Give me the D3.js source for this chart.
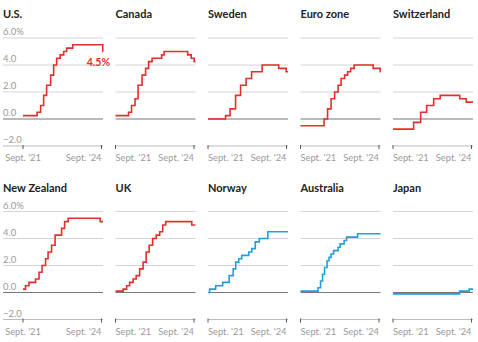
<!DOCTYPE html>
<html>
<head>
<meta charset="utf-8">
<script src="https://cdnjs.cloudflare.com/ajax/libs/d3/7.8.5/d3.min.js"></script>
<style>
  body { margin: 0; background: #fff; }
  text { font-family: Lato, "Open Sans", sans-serif; }
</style>
</head>
<body>
<svg id="chart" width="478" height="342"></svg>
<script>
////////////////////////////
//  data: policy rate steps [date, rate %]
////////////////////////////
var usRates = [["2021-09-01",0.25],["2022-03-17",0.5],["2022-05-05",1.0],["2022-06-16",1.75],["2022-07-28",2.5],["2022-09-22",3.25],["2022-11-03",4.0],["2022-12-15",4.5],["2023-02-02",4.75],["2023-03-23",5.0],["2023-05-04",5.25],["2023-07-27",5.5],["2024-09-19",5.0]];
var canadaRates = [["2021-09-01",0.25],["2022-03-02",0.5],["2022-04-13",1.0],["2022-06-01",1.5],["2022-07-13",2.5],["2022-09-07",3.25],["2022-10-26",3.75],["2022-12-07",4.25],["2023-01-25",4.5],["2023-06-07",4.75],["2023-07-12",5.0],["2024-06-05",4.75],["2024-07-24",4.5],["2024-09-04",4.25]];
var swedenRates = [["2021-09-01",0],["2022-05-04",0.25],["2022-07-06",0.75],["2022-09-21",1.75],["2022-11-30",2.5],["2023-02-15",3.0],["2023-05-03",3.5],["2023-09-27",4.0],["2024-05-15",3.75],["2024-08-28",3.5]];
var euroRates = [["2021-09-01",-0.5],["2022-07-27",0],["2022-09-14",0.75],["2022-11-02",1.5],["2022-12-21",2.0],["2023-02-08",2.5],["2023-03-22",3.0],["2023-05-10",3.25],["2023-06-21",3.5],["2023-08-02",3.75],["2023-09-20",4.0],["2024-06-12",3.75],["2024-09-18",3.5]];
var swissRates = [["2021-09-01",-0.75],["2022-06-16",-0.25],["2022-09-22",0.5],["2022-12-15",1.0],["2023-03-23",1.5],["2023-06-22",1.75],["2024-03-21",1.5],["2024-06-20",1.25]];
var nzRates = [["2021-09-01",0.25],["2021-10-06",0.5],["2021-11-24",0.75],["2022-02-23",1.0],["2022-04-13",1.5],["2022-05-25",2.0],["2022-07-13",2.5],["2022-08-17",3.0],["2022-10-05",3.5],["2022-11-23",4.25],["2023-02-22",4.75],["2023-04-05",5.25],["2023-05-24",5.5],["2024-08-14",5.25]];
var ukRates = [["2021-09-01",0.1],["2021-12-16",0.25],["2022-02-03",0.5],["2022-03-17",0.75],["2022-05-05",1.0],["2022-06-16",1.25],["2022-08-04",1.75],["2022-09-22",2.25],["2022-11-03",3.0],["2022-12-15",3.5],["2023-02-02",4.0],["2023-03-23",4.25],["2023-05-11",4.5],["2023-06-22",5.0],["2023-08-03",5.25],["2024-08-01",5.0]];
var norwayRates = [["2021-09-01",0],["2021-09-24",0.25],["2021-12-17",0.5],["2022-03-25",0.75],["2022-06-24",1.25],["2022-08-19",1.75],["2022-09-23",2.25],["2022-11-04",2.5],["2022-12-16",2.75],["2023-03-24",3.0],["2023-05-05",3.25],["2023-06-23",3.75],["2023-08-18",4.0],["2023-12-15",4.5]];
var australiaRates = [["2021-09-01",0.1],["2022-05-04",0.35],["2022-06-08",0.85],["2022-07-06",1.35],["2022-08-03",1.85],["2022-09-07",2.35],["2022-10-05",2.6],["2022-11-02",2.85],["2022-12-07",3.1],["2023-02-08",3.35],["2023-03-08",3.6],["2023-05-03",3.85],["2023-06-07",4.1],["2023-11-08",4.35]];
var japanRates = [["2021-09-01",-0.1],["2024-03-19",0.1],["2024-07-31",0.25]];

var countries = ["U.S.","Canada","Sweden","Euro zone","Switzerland","New Zealand","UK","Norway","Australia","Japan"];
var series = [usRates, canadaRates, swedenRates, euroRates, swissRates, nzRates, ukRates, norwayRates, australiaRates, japanRates];
var blueCountries = ["Norway","Australia","Japan"];

var yTicks = [6, 4, 2, 0, -2];
var yTickLabels = ["6.0%", "4.0", "2.0", "0.0", "\u22122.0"];
var xTickDates = ["2021-09-01", "2024-09-01"];
var xTickLabels = ["Sept. '21", "Sept. '24"];
var endDate = "2024-09-22";
var usLatest = "4.5%";

///////////////////
// layout
///////////////////
var parse = d3.timeParse("%Y-%m-%d");
var red = "#e42f2d", blue = "#1f9fe0";
var plotW = 80, colStep = 92.5, x0 = 23;
var rowStep = 173.5;
var svg = d3.select("#chart");

countries.forEach(function(name, i){
  var col = i % 5, row = Math.floor(i / 5);
  var left = x0 + col * colStep;
  var off = row * rowStep;

  var x = d3.scaleTime()
            .domain([parse("2021-09-01"), parse(endDate)])
            .range([left, left + plotW]);
  var y = d3.scaleLinear()
            .domain([-2, 6])
            .range([146 + off, 38 + off]);

  var g = svg.append("g");
  var gridLeft = col === 0 ? 3 : left;

  // title
  g.append("text")
    .attr("x", col === 0 ? 3 : left)
    .attr("y", 18 + off)
    .attr("font-size", 11)
    .attr("font-weight", 700)
    .attr("fill", "#222")
    .text(name);

  // gridlines
  g.selectAll(".grid")
    .data(yTicks.filter(d => d !== -2))
    .enter()
    .append("line")
      .attr("x1", gridLeft)
      .attr("x2", left + plotW)
      .attr("y1", d => y(d))
      .attr("y2", d => y(d))
      .attr("stroke", d => d === 0 ? "#777" : "#d4d4d4")
      .attr("stroke-width", 1);

  // y labels, first column only
  if (col === 0) {
    g.selectAll(".ylab")
      .data(yTicks)
      .enter()
      .append("text")
        .attr("x", 3)
        .attr("y", d => y(d) - 3)
        .attr("font-size", 9.5)
        .attr("fill", "#999")
        .text((d, k) => yTickLabels[k]);
  }

  // x axis line at -2
  g.append("line")
    .attr("x1", gridLeft)
    .attr("x2", left + plotW)
    .attr("y1", y(-2))
    .attr("y2", y(-2))
    .attr("stroke", "#bbb");

  g.selectAll(".xtick")
    .data(xTickDates)
    .enter()
    .append("line")
      .attr("x1", d => x(parse(d)))
      .attr("x2", d => x(parse(d)))
      .attr("y1", y(-2) - 1)
      .attr("y2", y(-2) + 3)
      .attr("stroke", "#555");

  g.selectAll(".xlab")
    .data(xTickDates)
    .enter()
    .append("text")
      .attr("x", d => x(parse(d)))
      .attr("y", y(-2) + 15)
      .attr("font-size", 9.3)
      .attr("fill", "#9a9a9a")
      .attr("text-anchor", (d, k) => k === 1 ? "end" : (col === 0 ? "middle" : "start"))
      .text((d, k) => xTickLabels[k]);

  // step line
  var pts = series[i].map(d => [parse(d[0]), d[1]]);
  pts.push([parse(endDate), pts[pts.length - 1][1]]);

  var line = d3.line()
               .x(d => x(d[0]))
               .y(d => y(d[1]))
               .curve(d3.curveStepAfter);

  g.append("path")
    .datum(pts)
    .attr("d", line)
    .attr("fill", "none")
    .attr("stroke", blueCountries.indexOf(name) >= 0 ? blue : red)
    .attr("stroke-width", 1.6);

  if (i === 0) {
    g.append("text")
      .attr("x", left + plotW + 7)
      .attr("y", y(3.9))
      .attr("text-anchor", "end")
      .attr("font-size", 10.5)
      .attr("font-weight", 700)
      .attr("fill", red)
      .text(usLatest);
  }
});
</script>
</body>
</html>
